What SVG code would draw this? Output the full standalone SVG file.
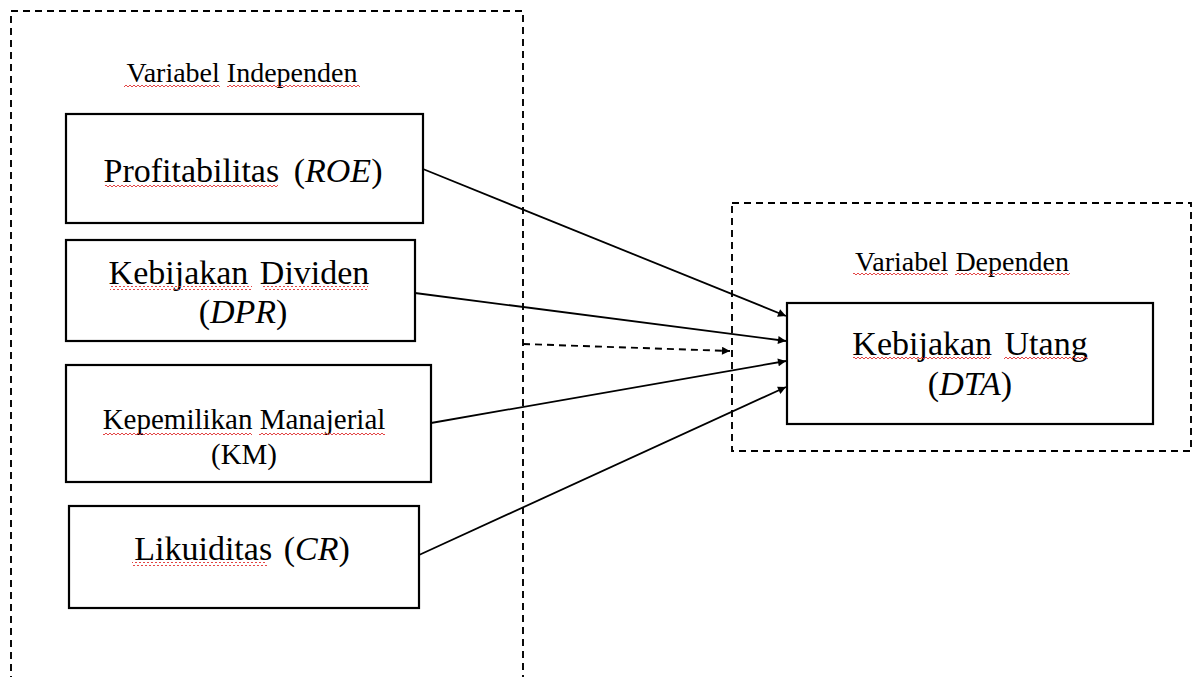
<svg xmlns="http://www.w3.org/2000/svg" width="1194" height="677" viewBox="0 0 1194 677">
<style>
.box{fill:#fff;stroke:#000;stroke-width:2.2}
.dash{fill:none;stroke:#000;stroke-width:1.9;stroke-dasharray:7 5}
.conn{stroke:#000;stroke-width:1.8;fill:none}
text{font-family:"Liberation Serif","Times New Roman",serif;fill:#000}
.t34{font-size:34px}
.t29{font-size:29px}
.t28{font-size:28px}
.it{font-style:italic}
.sq{fill:url(#wavy)}
</style>
<defs>
<pattern id="wavy" width="4" height="4" patternUnits="userSpaceOnUse">
<path d="M0,3 L2,1 L4,3" stroke="#e03030" stroke-width="0.9" fill="none"/>
</pattern>
<marker id="arr" viewBox="0 0 10 10" refX="10" refY="5" markerWidth="10" markerHeight="8" markerUnits="userSpaceOnUse" orient="auto">
<path d="M0,0 L10,5 L0,10 z" fill="#000"/>
</marker>
</defs>
<rect width="1194" height="677" fill="#fff"/>

<g id="group-independen">
<rect class="dash" x="11" y="11" width="512" height="700"/>
<text class="t28" x="242" y="82" text-anchor="middle">Variabel Independen</text>
<rect class="sq" x="124" y="83" width="96" height="4"/>
<rect class="sq" x="227" y="83" width="133" height="4"/>
</g>

<g id="group-dependen">
<rect class="dash" x="732" y="203" width="459" height="248"/>
<text class="t28" x="962" y="271" text-anchor="middle">Variabel Dependen</text>
<rect class="sq" x="853" y="272" width="95" height="4"/>
<rect class="sq" x="955" y="272" width="115" height="4"/>
</g>

<g id="node-roe">
<rect class="box" x="66" y="114" width="357" height="109"/>
<text class="t34" x="243" y="182" text-anchor="middle">Profitabilitas <tspan dx="6">(</tspan><tspan class="it">ROE</tspan>)</text>
<rect class="sq" x="105" y="184" width="173" height="4"/>
</g>

<g id="node-dpr">
<rect class="box" x="66" y="240" width="349" height="101"/>
<text class="t34" x="239" y="284" text-anchor="middle">Kebijakan <tspan dx="3">Dividen</tspan></text>
<text class="t34" x="243" y="323" text-anchor="middle">(<tspan class="it">DPR</tspan>)</text>
<rect class="sq" x="110" y="286" width="142" height="4"/>
<rect class="sq" x="263" y="286" width="105" height="4"/>
</g>

<g id="node-km">
<rect class="box" x="66" y="365" width="365" height="117"/>
<text class="t29" x="244" y="429" text-anchor="middle">Kepemilikan Manajerial</text>
<text class="t29" x="244" y="464" text-anchor="middle">(KM)</text>
<rect class="sq" x="103" y="431" width="149" height="4"/>
<rect class="sq" x="259" y="431" width="126" height="4"/>
</g>

<g id="node-cr">
<rect class="box" x="69" y="506" width="350" height="102"/>
<text class="t34" x="242" y="560" text-anchor="middle">Likuiditas <tspan dx="3">(</tspan><tspan class="it">CR</tspan>)</text>
<rect class="sq" x="132" y="562" width="135" height="4"/>
</g>

<g id="node-dta">
<rect class="box" x="787" y="303" width="366" height="121"/>
<text class="t34" x="970" y="355" text-anchor="middle">Kebijakan <tspan dx="4">Utang</tspan></text>
<text class="t34" x="970" y="395" text-anchor="middle">(<tspan class="it">DTA</tspan>)</text>
<rect class="sq" x="853" y="357" width="137" height="4"/>
<rect class="sq" x="1004" y="357" width="84" height="4"/>
</g>

<g id="connectors">
<line class="conn" x1="423" y1="169" x2="786" y2="316" marker-end="url(#arr)"/>
<line class="conn" x1="415" y1="293" x2="786" y2="341" marker-end="url(#arr)"/>
<line class="conn" x1="431" y1="423" x2="786" y2="361" marker-end="url(#arr)"/>
<line class="conn" x1="419" y1="555" x2="786" y2="387" marker-end="url(#arr)"/>
<line class="dash" x1="523" y1="344" x2="730" y2="351" marker-end="url(#arr)"/>
</g>
</svg>
